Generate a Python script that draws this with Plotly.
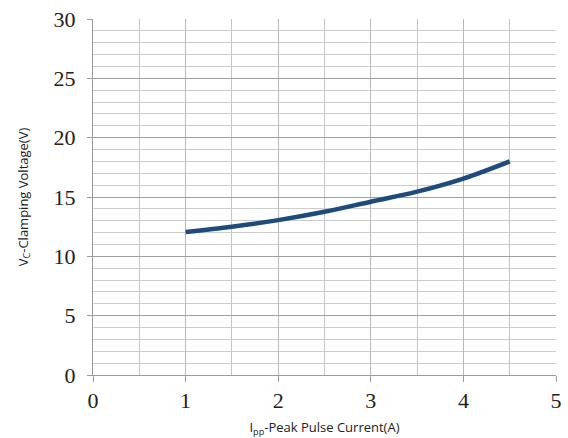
import plotly.graph_objects as go

current_a = [1.0, 1.5, 2.0, 2.5, 3.0, 3.5, 4.0, 4.5]
clamp_v = [12.05, 12.5, 13.05, 13.75, 14.6, 15.45, 16.55, 18.0]

x_ticks = [0, 1, 2, 3, 4, 5]
y_ticks = [0, 5, 10, 15, 20, 25, 30]

fig = go.Figure()
fig.add_trace(go.Scatter(
    x=current_a, y=clamp_v, mode="lines",
    line=dict(color="#1f4a7c", width=4.5, shape="spline"),
    showlegend=False, hoverinfo="skip",
))

fig.update_layout(
    width=568, height=438,
    margin=dict(l=93, r=12, t=19, b=63),
    paper_bgcolor="white", plot_bgcolor="white",
    font=dict(family="Liberation Serif", color="#222222"),
)
fig.update_xaxes(
    range=[0, 5], tickvals=x_ticks, ticktext=[str(t) for t in x_ticks],
    tickfont=dict(family="Liberation Serif", size=22, color="#222222"),
    showgrid=True, gridcolor="#b8b8b8", gridwidth=1,
    minor=dict(dtick=0.5, showgrid=True, gridcolor="#c4c4c4", gridwidth=1),
    showline=True, linecolor="#9a9a9a", linewidth=1,
    ticks="outside", ticklen=6, tickcolor="#9a9a9a",
    zeroline=False, automargin=False,
    title=dict(text="I<sub>pp</sub>-Peak Pulse Current(A)",
               font=dict(family="Open Sans", size=13, color="#222222"), standoff=12),
)
fig.update_yaxes(
    range=[0, 30], tickvals=y_ticks, ticktext=[str(t) for t in y_ticks],
    tickfont=dict(family="Liberation Serif", size=22, color="#222222"),
    showgrid=True, gridcolor="#a0a0a0", gridwidth=1,
    minor=dict(dtick=1, showgrid=True, gridcolor="#cccccc", gridwidth=1),
    showline=True, linecolor="#9a9a9a", linewidth=1,
    ticks="outside", ticklen=5, tickcolor="#9a9a9a",
    ticklabelstandoff=7,
    zeroline=False, automargin=False,
    title=dict(text="V<sub>C</sub>-Clamping Voltage(V)",
               font=dict(family="Open Sans", size=13, color="#222222"), standoff=22),
)

fig.write_html(
    "out.html",
    config={"displayModeBar": False},
    post_script="document.body.style.margin='0';document.body.style.overflow='hidden';",
)
